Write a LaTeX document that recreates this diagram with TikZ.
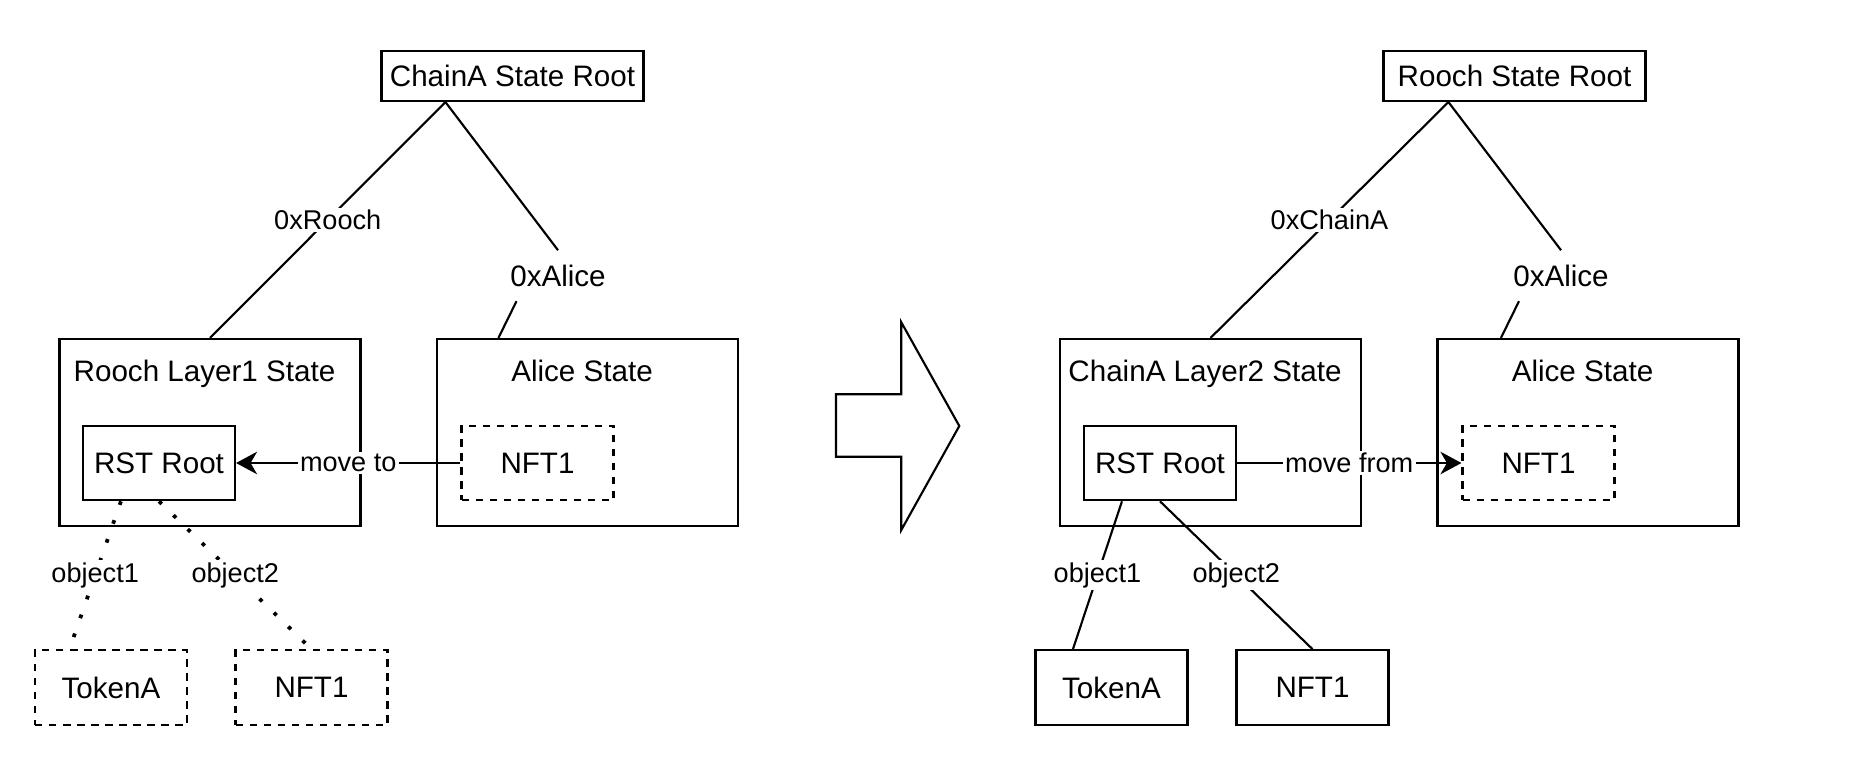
\documentclass[tikz,border=0pt]{standalone}
\usepackage{fontspec}
\setmainfont{Liberation Sans}
\usetikzlibrary{arrows.meta,calc}
\begin{document}
\begin{tikzpicture}[x=0.4pt,y=-0.4pt,
  vfont/.style={font=\fontsize{11.84}{14}\selectfont},
  efont/.style={font=\fontsize{10.85}{13}\selectfont},
  rootbox/.style={draw, line width=0.85pt, vfont, inner sep=0pt, minimum width=104.8pt, minimum height=20pt},
  statebox/.style={draw, line width=0.85pt, inner sep=0pt, minimum width=120.4pt, minimum height=74.8pt},
  smallbox/.style={draw, line width=0.85pt, vfont, inner sep=0pt, minimum width=60.8pt, minimum height=29.8pt},
  dashbox/.style={smallbox, dash pattern=on 3pt off 2.6pt},
  titletext/.style={vfont, inner sep=0pt, anchor=base},
  keylabel/.style={vfont, inner sep=0pt, minimum width=40pt, minimum height=20pt},
  elabel/.style={efont, fill=white, inner sep=1pt},
  conn/.style={line width=0.85pt},
  dotline/.style={line width=1.5pt, line cap=butt, dash pattern=on 1.5pt off 6.5pt},
  tip/.style={-{Stealth[length=8.4pt, width=9pt, inset=2.6pt]}},
]
\useasboundingbox (0,0) rectangle (1854,772);

% ---------------- left panel ----------------
\node[rootbox] (rootA) at (512.5,76) {ChainA State Root};
\node[statebox] (roochL1) at (210,432.5) {};
\node[titletext] (tRoochL1) at (204.5,382) {Rooch Layer1 State};
\node[statebox] (aliceA) at (587.5,432.5) {};
\node[titletext] (tAliceA) at (582,382) {Alice State};
\node[smallbox] (rstA) at (159,463) {RST Root};
\node[dashbox] (nftA) at (537.5,463) {NFT1};
\node[dashbox] (tokA) at (111,687.5) {TokenA};
\node[dashbox] (nftB) at (311.5,687.5) {NFT1};
\node[keylabel] (kAliceA) at (558,275.7) {0xAlice};

\coordinate (sA) at ($(rootA.south west)+(65,0)$);
\draw[conn] (sA) -- node[elabel] {0xRooch} (roochL1.north);
\draw[conn] (sA) -- (kAliceA.north);
\draw[conn] ($(kAliceA.south)+(-41.5,0)$) -- ($(aliceA.north west)+(62.5,0)$);
\draw[conn, tip] (nftA.west) -- node[elabel] {move to} (rstA.east);
\draw[dotline] ($(rstA.south west)+(39,0)$) -- node[elabel] {object1} ($(tokA.north west)+(35.5,0)$);
\draw[dotline] (rstA.south) -- node[elabel] {object2} (nftB.north);

% ---------------- big arrow ----------------
\draw[line width=0.85pt, line join=miter] (836,394.3) -- (901.3,394.3) -- (901.3,322.3) -- (959.3,426)
  -- (901.3,530) -- (901.3,456.7) -- (836,456.7) -- cycle;

% ---------------- right panel ----------------
\node[rootbox] (rootB) at (1514.5,76) {Rooch State Root};
\node[statebox] (chainL2) at (1210.5,432.5) {};
\node[titletext] (tChainL2) at (1205,382) {ChainA Layer2 State};
\node[statebox] (aliceB) at (1588,432.5) {};
\node[titletext] (tAliceB) at (1582.5,382) {Alice State};
\node[smallbox] (rstB) at (1160,463) {RST Root};
\node[dashbox] (nftC) at (1538.5,463) {NFT1};
\node[smallbox] (tokB) at (1111.5,687.5) {TokenA};
\node[smallbox] (nftD) at (1312.5,687.5) {NFT1};
\node[keylabel] (kAliceB) at (1561,275.7) {0xAlice};

\coordinate (sB) at ($(rootB.south west)+(66,0)$);
\draw[conn] (sB) -- node[elabel] {0xChainA} (chainL2.north);
\draw[conn] (sB) -- (kAliceB.north);
\draw[conn] ($(kAliceB.south)+(-42,0)$) -- ($(aliceB.north west)+(64.5,0)$);
\draw[conn, tip] (rstB.east) -- node[elabel] {move from} (nftC.west);
\draw[conn] ($(rstB.south west)+(39,0)$) -- node[elabel] {object1} ($(tokB.north west)+(38.5,0)$);
\draw[conn] (rstB.south) -- node[elabel] {object2} (nftD.north);
\end{tikzpicture}
\end{document}
